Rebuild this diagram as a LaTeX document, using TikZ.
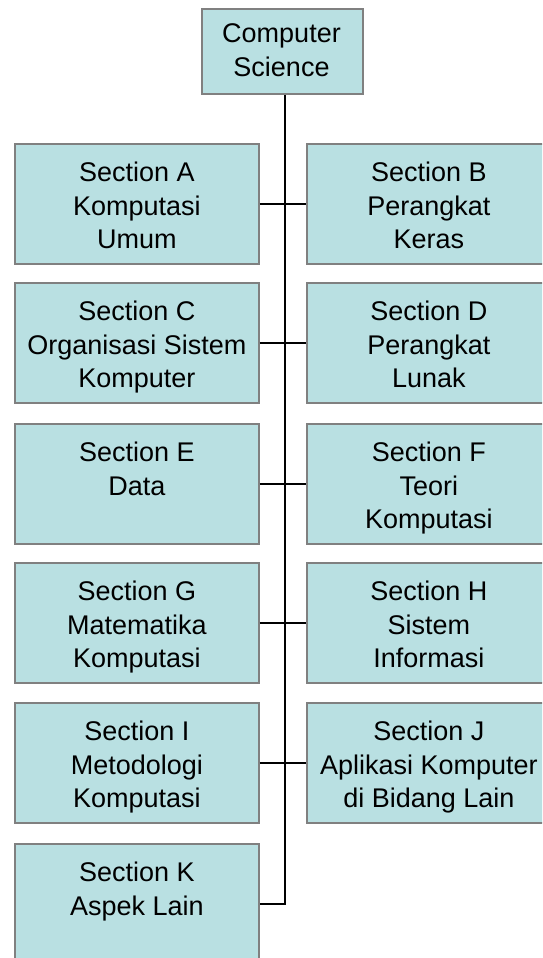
\documentclass[tikz,border=0pt]{standalone}
\usepackage{fontspec}
\setmainfont{Liberation Sans}
\definecolor{boxfill}{RGB}{185,224,226}
\definecolor{boxedge}{RGB}{128,128,128}
\tikzset{
  card/.style={draw=boxedge, line width=1.8pt, fill=boxfill, inner sep=0pt,
    minimum width=244pt, minimum height=120pt, anchor=north west},
  topcard/.style={draw=boxedge, line width=1.8pt, fill=boxfill, inner sep=0pt,
    minimum width=161pt, minimum height=85pt, anchor=north west},
  label/.style={anchor=north, inner sep=0pt, align=center,
    font=\fontsize{27pt}{33.5pt}\selectfont},
  wire/.style={draw=black, line width=2pt}
}
\begin{document}
\begin{tikzpicture}[x=1pt,y=-1pt]
\clip (0,0) rectangle (542,958);
\fill[white] (0,0) rectangle (542,958);
% top box
\node[topcard] (cs) at (201,8) {};
\node[label] (cst) at (281.5,23.5) {Computer\\Science};
% left column x=14, right column x=306
\node[card] (a) at (14,143) {};
\node[card] (b) at (306,143) {};
\node[card] (c) at (14,282) {};
\node[card] (d) at (306,282) {};
\node[card] (e) at (14,423) {};
\node[card] (f) at (306,423) {};
\node[card] (g) at (14,562) {};
\node[card] (h) at (306,562) {};
\node[card] (i) at (14,702) {};
\node[card] (j) at (306,702) {};
\node[card] (k) at (14,843) {};
% texts
\node[label] (at) at (a.north) [yshift=-19pt] {Section A\\Komputasi\\Umum};
\node[label] (bt) at (b.north) [yshift=-19pt] {Section B\\Perangkat\\Keras};
\node[label] (ct) at (c.north) [yshift=-19pt] {Section C\\Organisasi Sistem\\Komputer};
\node[label] (dt) at (d.north) [yshift=-19pt] {Section D\\Perangkat\\Lunak};
\node[label] (et) at (e.north) [yshift=-19pt] {Section E\\Data};
\node[label] (ft) at (f.north) [yshift=-19pt] {Section F\\Teori\\Komputasi};
\node[label] (gt) at (g.north) [yshift=-19pt] {Section G\\Matematika\\Komputasi};
\node[label] (ht) at (h.north) [yshift=-19pt] {Section H\\Sistem\\Informasi};
\node[label] (it) at (i.north) [yshift=-19pt] {Section I\\Metodologi\\Komputasi};
\node[label] (jt) at (j.north) [yshift=-19pt] {Section J\\Aplikasi Komputer\\di Bidang Lain};
\node[label] (kt) at (k.north) [yshift=-19pt] {Section K\\Aspek Lain};
% connectors
\coordinate (tx) at (285,0);
\draw[wire] (cs.south -| tx) -- (k.east -| tx) -- (k.east);
\draw[wire] (a.east) -- (b.west);
\draw[wire] (c.east) -- (d.west);
\draw[wire] (e.east) -- (f.west);
\draw[wire] (g.east) -- (h.west);
\draw[wire] (i.east) -- (j.west);
\end{tikzpicture}
\end{document}
